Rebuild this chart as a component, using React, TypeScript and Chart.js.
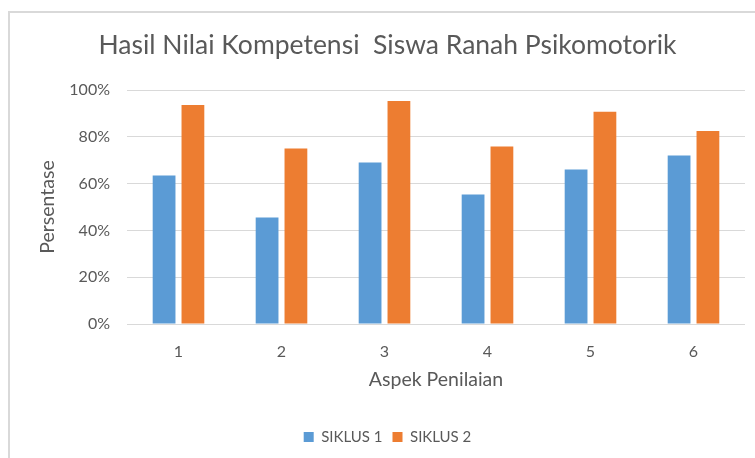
import React, { useEffect, useRef } from "react";
import { Chart, registerables } from "chart.js";

Chart.register(...registerables);

const chartTitle = "Hasil Nilai Kompetensi  Siswa Ranah Psikomotorik";
const xAxisTitle = "Aspek Penilaian";
const yAxisTitle = "Persentase";
const categories = ["1", "2", "3", "4", "5", "6"];
const seriesNames = ["SIKLUS 1", "SIKLUS 2"];
const siklus1 = [63.5, 45.5, 69.0, 55.3, 66.0, 72.0];
const siklus2 = [93.6, 75.0, 95.3, 75.9, 90.7, 82.5];
const yTickValues = [0, 20, 40, 60, 80, 100];

const BLUE = "#5B9BD5";
const ORANGE = "#ED7D31";
const TEXT = "#595959";
const GRID = "#D9D9D9";
const FONT = "Lato, 'Open Sans', sans-serif";

export default function App() {
  const canvasRef = useRef<HTMLCanvasElement | null>(null);

  useEffect(() => {
    const canvas = canvasRef.current;
    if (!canvas) return;
    const chart = new Chart(canvas, {
      type: "bar",
      data: {
        labels: categories,
        datasets: [
          {
            label: seriesNames[0],
            data: siklus1,
            backgroundColor: BLUE,
            borderWidth: 0,
            categoryPercentage: 0.56,
            barPercentage: 0.79,
          },
          {
            label: seriesNames[1],
            data: siklus2,
            backgroundColor: ORANGE,
            borderWidth: 0,
            categoryPercentage: 0.56,
            barPercentage: 0.79,
          },
        ],
      },
      options: {
        animation: false,
        responsive: false,
        maintainAspectRatio: false,
        devicePixelRatio: 1,
        layout: { padding: { left: 30, right: 10, top: 0, bottom: 3.5 } },
        plugins: {
          title: {
            display: true,
            text: chartTitle,
            color: TEXT,
            font: { family: FONT, size: 26.5, weight: "normal", lineHeight: 1.2 },
            padding: { top: 30, bottom: 28.2 },
          },
          legend: {
            display: true,
            position: "bottom",
            labels: {
              color: TEXT,
              font: { family: FONT, size: 15 },
              boxWidth: 10,
              boxHeight: 10,
              padding: 10,
            },
          },
          tooltip: { enabled: false },
        },
        scales: {
          x: {
            afterFit: (scale: any) => {
              scale.height = 95.5;
            },
            grid: { display: false, drawTicks: false },
            border: { display: false },
            ticks: {
              color: TEXT,
              font: { family: FONT, size: 16, lineHeight: 1.2 },
              padding: 18,
            },
            title: {
              display: true,
              text: xAxisTitle,
              color: TEXT,
              font: { family: FONT, size: 19.5, lineHeight: 1.2 },
              padding: { top: 10, bottom: 27.8 },
            },
          },
          y: {
            min: 0,
            max: 100,
            afterBuildTicks: (scale: any) => {
              scale.ticks = yTickValues.map((v) => ({ value: v }));
            },
            afterFit: (scale: any) => {
              scale.width = 127 - 30;
            },
            grid: { color: GRID, lineWidth: 1, drawTicks: false },
            border: { display: false },
            ticks: {
              color: TEXT,
              font: { family: FONT, size: 16 },
              padding: 17,
              callback: (v: any) => v + "%",
            },
            title: {
              display: true,
              text: yAxisTitle,
              color: TEXT,
              font: { family: FONT, size: 19.5, lineHeight: 1.2 },
              padding: { top: 6.3, bottom: 0 },
            },
          },
        },
      },
    });
    return () => chart.destroy();
  }, []);

  return (
    <div
      style={{
        position: "fixed",
        left: 0,
        top: 0,
        width: 755,
        height: 458,
        background: "#ffffff",
        overflow: "hidden",
      }}
    >
      <div
        style={{
          position: "absolute",
          left: 8,
          top: 11,
          width: 800,
          height: 500,
          borderLeft: "2px solid #D9D9D9",
          borderTop: "2px solid #D9D9D9",
          boxSizing: "border-box",
        }}
      />
      <canvas
        ref={canvasRef}
        width={755}
        height={458}
        style={{ position: "absolute", left: 0, top: 0, width: 755, height: 458 }}
      />
    </div>
  );
}
